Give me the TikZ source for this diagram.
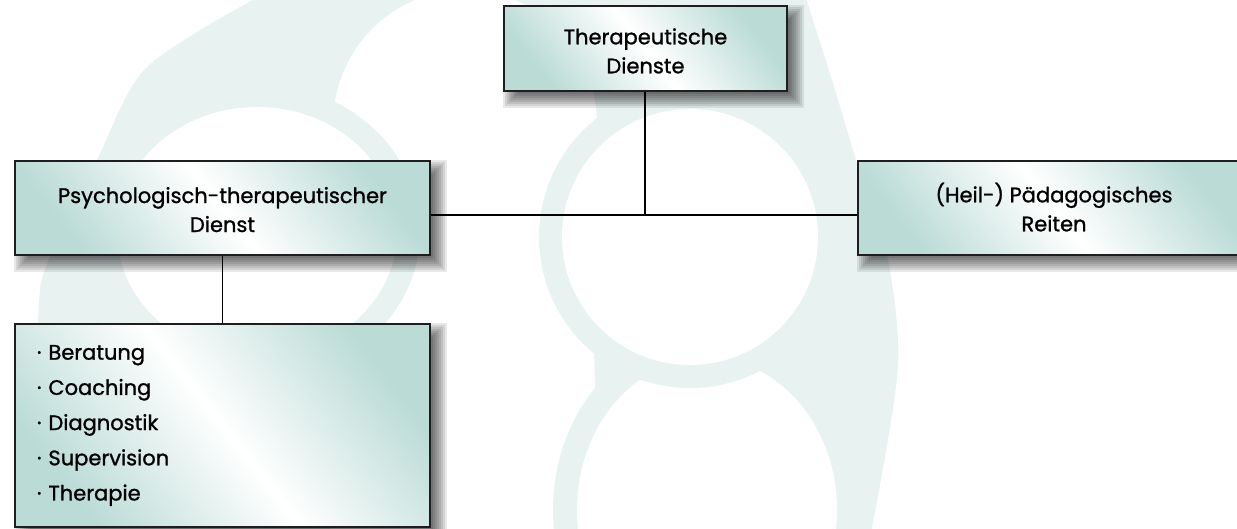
\documentclass[tikz,border=0pt]{standalone}
\usepackage{fontspec}
\newfontfamily\boxfont{Poppins}[FakeBold=1.1]
\usetikzlibrary{calc}
\pgfdeclarelayer{wm}
\pgfdeclarelayer{bg}
\pgfsetlayers{wm,bg,main}
\definecolor{wmteal}{RGB}{232,243,241}
\definecolor{boxteal}{RGB}{186,219,214}
\definecolor{edgecol}{RGB}{30,30,30}
\tikzset{
  orgbox/.style={draw=edgecol, line width=1.4pt, inner sep=0pt,
    top color=boxteal, bottom color=boxteal, middle color=white, shading angle=128,
    font=\boxfont\fontsize{21}{29}\selectfont, text=black},
  listbox/.style={orgbox, align=left, inner xsep=22pt, text width=371pt,
    font=\boxfont\fontsize{21}{35.2}\selectfont},
  conn/.style={draw=black, line width=1.3pt},
}
\newcommand\btext[2]{\raisebox{-#1}[\height][\depth]{\begin{tabular}{@{}c@{}}#2\end{tabular}}}
\newcommand\boxshadow[1]{%
  \foreach \k in {0,...,7}{%
    \pgfmathsetmacro\e{8-2*\k}%
    \fill[black,opacity=0.09] ($(#1.north west)+(8-\e,8-\e)$) rectangle ($(#1.south east)+(8+\e,8+\e)$);
  }}
\begin{document}
\begin{tikzpicture}[x=1pt,y=-1pt]
\useasboundingbox (0,0) rectangle (1237,528);

% watermark
\begin{pgfonlayer}{wm}
  \fill[wmteal] plot[smooth] coordinates {(262,-5) (147,67) (97,160) (47,264) (38,321) (30,533)}
     -- plot[smooth] coordinates {(871,533) (898,367) (887,255) (862,180) (835,90) (805,-5)} -- cycle;
  \fill[white] (465,125) ellipse [x radius=132, y radius=135];
  \fill[white] (360,230) -- (590,230) -- (600,533) -- (330,533) -- cycle;
  \fill[wmteal] (707,510) ellipse [x radius=154, y radius=178];
  \fill[white] (707,510) ellipse [x radius=130, y radius=152];
  \fill[wmteal] (690,237) circle [radius=151];
  \fill[white] (690,237) circle [radius=128];
  \fill[wmteal] (257,232) ellipse [x radius=163, y radius=148];
  \fill[white] (257,232) ellipse [x radius=140, y radius=125];
\end{pgfonlayer}

% boxes
\node[orgbox, minimum width=283pt, minimum height=85pt] (td) at (645.5,48.5)
  {\btext{4.5pt}{Therapeutische\\Dienste}};
\node[orgbox, minimum width=415pt, minimum height=94pt] (ptd) at (222.5,208)
  {\btext{3.7pt}{Psychologisch-therapeutischer\\Dienst}};
\node[orgbox, minimum width=392pt, minimum height=94pt] (hpr) at (1054,208)
  {\btext{3pt}{(Heil-) Pädagogisches\\Reiten}};
\node[listbox, minimum width=415pt, minimum height=203pt] (list) at (222.5,425.5)
  {· Beratung\\· Coaching\\· Diagnostik\\· Supervision\\· Therapie};

\begin{pgfonlayer}{bg}
  \boxshadow{td}
  \boxshadow{ptd}
  \boxshadow{hpr}
  \boxshadow{list}
\end{pgfonlayer}

% connectors
\coordinate (j) at (645,215);
\draw[conn] (td.south -| j) -- (j);
\draw[conn] (ptd.east |- j) -- (hpr.west |- j);
\draw[conn] (ptd.south) -- (list.north);
\end{tikzpicture}
\end{document}
